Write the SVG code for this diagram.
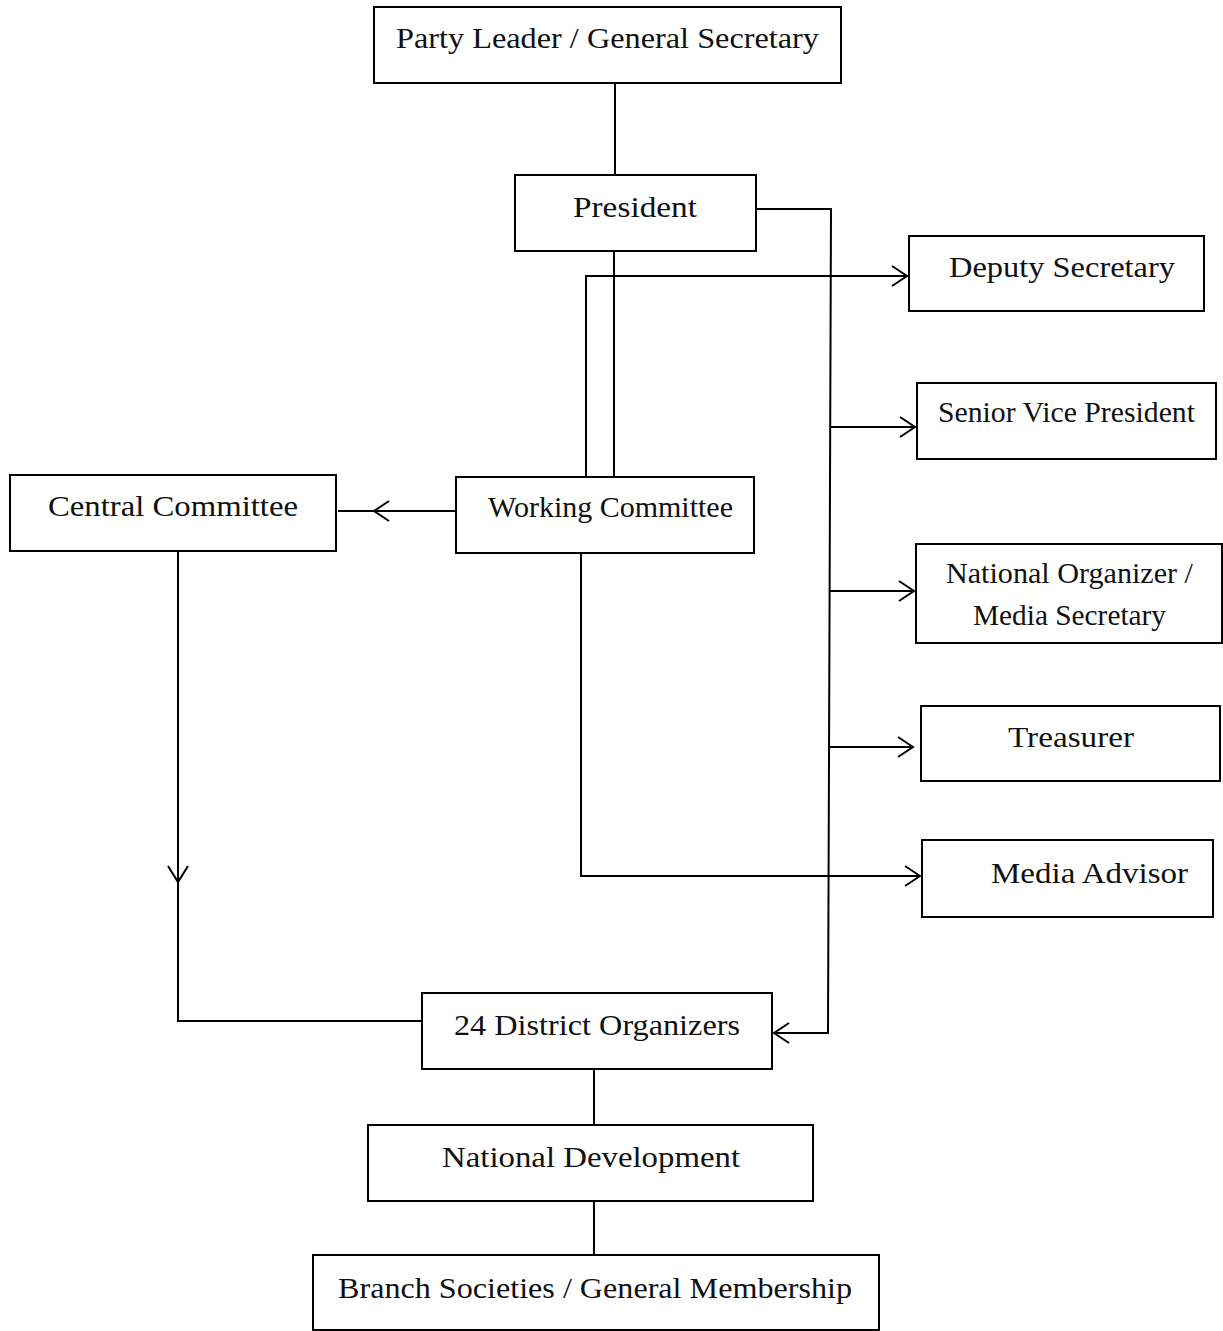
<svg xmlns="http://www.w3.org/2000/svg" width="1223" height="1331" viewBox="0 0 1223 1331">
<style>
.box{fill:#fff;stroke:#000;stroke-width:2}
.lbl{font-family:"Liberation Serif","DejaVu Serif",serif;font-size:30px;fill:#111}
.wire{fill:none;stroke:#000;stroke-width:2}
.head{fill:none;stroke:#000;stroke-width:2}
</style>
<rect width="1223" height="1331" fill="#fff"/>
<g id="connectors">
<path class="wire" d="M615,83 V175"/>
<path class="wire" d="M614,251 V477"/>
<path class="wire" d="M586,477 V276 H907"/>
<path class="head" d="M892,266 L907,276 L892,286"/>
<path class="wire" d="M756,209 H831 L828,1033 H774"/>
<path class="head" d="M789,1023 L774,1033 L789,1043"/>
<path class="wire" d="M830,427 H915"/>
<path class="head" d="M900,417 L915,427 L900,437"/>
<path class="wire" d="M829,591 H914"/>
<path class="head" d="M899,581 L914,591 L899,601"/>
<path class="wire" d="M829,747 H913"/>
<path class="head" d="M898,737 L913,747 L898,757"/>
<path class="wire" d="M456,511 H338"/>
<path class="head" d="M389,501 L374,511 L389,521"/>
<path class="wire" d="M581,553 V876 H920"/>
<path class="head" d="M905,866 L920,876 L905,886"/>
<path class="wire" d="M178,551 V1021 H422"/>
<path class="head" d="M168,866 L178,882 L188,866"/>
<path class="wire" d="M594,1069 V1125"/>
<path class="wire" d="M594,1201 V1255"/>
</g>
<g id="party-leader"><rect class="box" x="374" y="7" width="467" height="76"/><text class="lbl" x="396" y="48" textLength="423" lengthAdjust="spacingAndGlyphs">Party Leader / General Secretary</text></g>
<g id="president"><rect class="box" x="515" y="175" width="241" height="76"/><text class="lbl" x="573" y="217" textLength="124" lengthAdjust="spacingAndGlyphs">President</text></g>
<g id="deputy-secretary"><rect class="box" x="909" y="236" width="295" height="75"/><text class="lbl" x="949" y="277" textLength="226" lengthAdjust="spacingAndGlyphs">Deputy Secretary</text></g>
<g id="senior-vice-president"><rect class="box" x="917" y="383" width="299" height="76"/><text class="lbl" x="938" y="422" textLength="257" lengthAdjust="spacingAndGlyphs">Senior Vice President</text></g>
<g id="central-committee"><rect class="box" x="10" y="475" width="326" height="76"/><text class="lbl" x="48" y="516" textLength="250" lengthAdjust="spacingAndGlyphs">Central Committee</text></g>
<g id="working-committee"><rect class="box" x="456" y="477" width="298" height="76"/><text class="lbl" x="488" y="517" textLength="245" lengthAdjust="spacingAndGlyphs">Working Committee</text></g>
<g id="national-organizer"><rect class="box" x="916" y="544" width="306" height="99"/><text class="lbl" x="946" y="583" textLength="247" lengthAdjust="spacingAndGlyphs">National Organizer /</text><text class="lbl" x="973" y="625" textLength="193" lengthAdjust="spacingAndGlyphs">Media Secretary</text></g>
<g id="treasurer"><rect class="box" x="921" y="706" width="299" height="75"/><text class="lbl" x="1008" y="747" textLength="126" lengthAdjust="spacingAndGlyphs">Treasurer</text></g>
<g id="media-advisor"><rect class="box" x="922" y="840" width="291" height="77"/><text class="lbl" x="991" y="883" textLength="197" lengthAdjust="spacingAndGlyphs">Media Advisor</text></g>
<g id="district-organizers"><rect class="box" x="422" y="993" width="350" height="76"/><text class="lbl" x="454" y="1035" textLength="286" lengthAdjust="spacingAndGlyphs">24 District Organizers</text></g>
<g id="national-development"><rect class="box" x="368" y="1125" width="445" height="76"/><text class="lbl" x="442" y="1167" textLength="298" lengthAdjust="spacingAndGlyphs">National Development</text></g>
<g id="branch-societies"><rect class="box" x="313" y="1255" width="566" height="75"/><text class="lbl" x="338" y="1298" textLength="514" lengthAdjust="spacingAndGlyphs">Branch Societies / General Membership</text></g>
</svg>
